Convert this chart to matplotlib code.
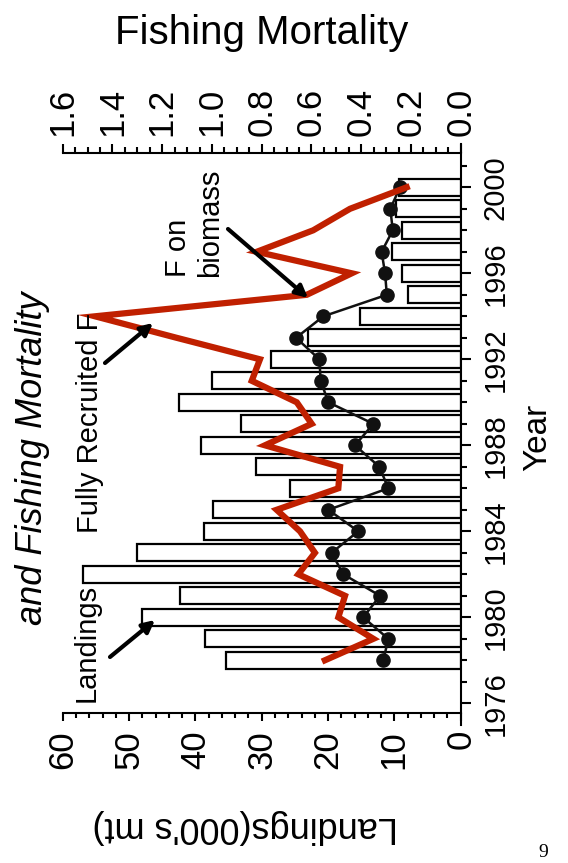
import matplotlib
matplotlib.use("Agg")
import matplotlib.pyplot as plt
from matplotlib.patches import FancyArrowPatch
from matplotlib.ticker import MultipleLocator, FormatStrFormatter

# ── Data ──────────────────────────────────────────────────────────────────────
years = list(range(1978, 2001))
landings = [35.4, 38.5, 48.1, 42.3, 57.0, 48.8, 38.7, 37.3, 25.8, 30.9, 39.2, 33.1,
            42.5, 37.5, 28.6, 23.0, 15.2, 7.9, 8.9, 10.4, 8.9, 9.7, 9.3]
f_recruited = [0.546, 0.351, 0.492, 0.465, 0.653, 0.586, 0.646, 0.740, 0.492, 0.485,
               0.787, 0.599, 0.659, 0.840, 0.807, 1.142, 1.470, 0.619, 0.438, 0.820,
               0.593, 0.445, 0.217]
f_biomass = [0.311, 0.291, 0.392, 0.324, 0.472, 0.519, 0.412, 0.532, 0.291, 0.327,
             0.425, 0.351, 0.532, 0.563, 0.568, 0.662, 0.552, 0.297, 0.304, 0.318,
             0.273, 0.283, 0.244]

RED = "#c02000"
W, H = 568, 863

plt.rcParams["font.family"] = ["Liberation Sans", "DejaVu Sans"]

fig = plt.figure(figsize=(W / 100, H / 100), dpi=100, facecolor="white")


def fx(x, y):
    # pixel position (from top-left) -> figure fraction
    return x / W, 1 - y / H


# page is laid out sideways: year runs up the right edge
ax = fig.add_axes([62.7 / W, 1 - 724.8 / H, 398 / W, (724.8 - 144.3) / H])
ax.set_xlim(60, 0)
ax.set_ylim(1975, 2002)

ax.barh(years, landings, height=0.8, color="white", edgecolor="black",
        lw=1.6, zorder=2)

for sp in ["left", "top"]:
    ax.spines[sp].set_visible(False)
ax.spines["bottom"].set_position(("data", 1975.53))
for sp in ["bottom", "right"]:
    ax.spines[sp].set_linewidth(1.5)

ax.yaxis.tick_right()
ax.set_yticks(range(1976, 2001, 4))
ax.set_yticks(range(1976, 2002), minor=True)
ax.tick_params(axis="y", which="major", direction="out", length=7, width=1.5,
               labelsize=21, labelrotation=90, pad=8)
ax.tick_params(axis="y", which="minor", direction="out", length=4, width=1.5)
for lab in ax.get_yticklabels():
    lab.set_va("center")

ax.xaxis.set_major_locator(MultipleLocator(10))
ax.xaxis.set_minor_locator(MultipleLocator(2))
ax.tick_params(axis="x", which="major", direction="out", length=6, width=1.5,
               labelsize=25, labelrotation=90, pad=6)
ax.tick_params(axis="x", which="minor", direction="out", length=3.5, width=1.5)

# fishing mortality on the opposite axis
ax2 = ax.twiny()
ax2.set_xlim(1.6, 0)
for sp in ["left", "right", "bottom"]:
    ax2.spines[sp].set_visible(False)
ax2.spines["top"].set_position(("data", 2001.6))
ax2.spines["top"].set_linewidth(1.5)
ax2.xaxis.set_major_locator(MultipleLocator(0.2))
ax2.xaxis.set_minor_locator(MultipleLocator(0.05))
ax2.xaxis.set_major_formatter(FormatStrFormatter("%.1f"))
ax2.tick_params(axis="x", which="major", direction="out", length=6.5, width=1.5,
                labelsize=25, labelrotation=90, pad=6)
ax2.tick_params(axis="x", which="minor", direction="out", length=4, width=1.5)

ax2.plot(f_biomass, years, color="#111111", lw=1.8, marker="o", ms=9.5, zorder=3)
ax2.plot(f_recruited, years, color=RED, lw=4.5, solid_joinstyle="miter", zorder=4)

# ── Labels ────────────────────────────────────────────────────────────────────
fig.text(*fx(262, 33), "Fishing Mortality", fontsize=29, ha="center", va="center")
fig.text(*fx(245, 826), "Landings(000's mt)", fontsize=26, rotation=180,
         ha="center", va="center")
fig.text(*fx(538, 437), "Year", fontsize=24, rotation=90, ha="center", va="center")
fig.text(*fx(33, 458), "and Fishing Mortality", fontsize=26, style="italic",
         rotation=90, ha="center", va="center")
fig.text(*fx(543, 852), "9", fontsize=14, family="Liberation Serif",
         ha="center", va="center")

fig.text(*fx(87, 643), "Landings", fontsize=21, rotation=90, ha="center", va="center")
fig.text(*fx(90, 423), "Fully Recruited F", fontsize=21, rotation=90,
         ha="center", va="center")
fig.text(*fx(194, 277), "F on\nbiomass", fontsize=21, rotation=90,
         ha="center", va="bottom", multialignment="left", linespacing=1.15)

arrow = dict(arrowstyle="-|>", lw=3, color="black", mutation_scale=18,
             shrinkA=0, shrinkB=0)
for tail, head in [((110, 657), (155, 620)),
                   ((105, 363), (153, 323)),
                   ((228, 229), (308, 298))]:
    fig.add_artist(FancyArrowPatch(fx(*tail), fx(*head),
                                   transform=fig.transFigure, **arrow))

fig.savefig("out.png", dpi=100, facecolor="white")
